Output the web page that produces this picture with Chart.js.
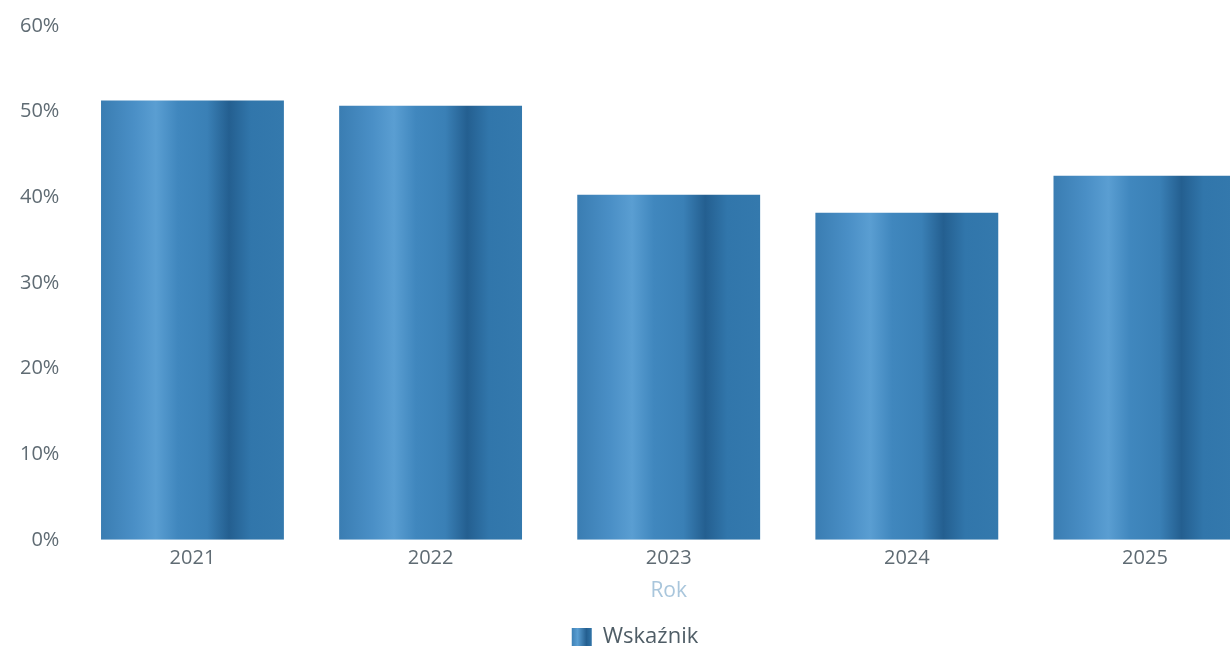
<!DOCTYPE html>
<html>
<head>
    <title>Wskaźnik</title>
    <script src="https://cdn.jsdelivr.net/npm/chart.js@4.4.0/dist/chart.umd.min.js"></script>
    <style>
        html, body { margin: 0; padding: 0; background: #ffffff; overflow: hidden; }
        .wrap { width: 1268px; height: 648px; }
    </style>
</head>
<body>
    <div class="wrap">
        <canvas id="wykres"></canvas>
    </div>
    <script>
        // dane
        const lata = ['2021', '2022', '2023', '2024', '2025'];
        const wskaznik = [51.3, 50.7, 40.3, 38.2, 42.5];
        const ticksY = [0, 10, 20, 30, 40, 50, 60];

        const FONT = "'Open Sans', 'Noto Sans', sans-serif";

        // gradient "walca" na każdym słupku
        function barGradient(ctx, x0, x1) {
            const g = ctx.createLinearGradient(x0, 0, x1, 0);
            g.addColorStop(0.00, '#3a7db2');
            g.addColorStop(0.18, '#4a8fc6');
            g.addColorStop(0.30, '#5a9ed2');
            g.addColorStop(0.42, '#4087be');
            g.addColorStop(0.58, '#3a80b6');
            g.addColorStop(0.70, '#245f90');
            g.addColorStop(0.82, '#3176ab');
            g.addColorStop(1.00, '#3479ad');
            return g;
        }

        function kolorSlupka(context) {
            const chart = context.chart;
            const x = chart.scales.x;
            if (!x || context.dataIndex === undefined) return '#3a7fb4';
            const center = x.getPixelForValue(context.dataIndex);
            const w = (x.width / lata.length) * 0.8 * 0.96;
            return barGradient(chart.ctx, center - w / 2, center + w / 2);
        }

        const ctx = document.getElementById('wykres').getContext('2d');
        new Chart(ctx, {
            type: 'bar',
            data: {
                labels: lata,
                datasets: [{
                    label: 'Wskaźnik',
                    data: wskaznik,
                    backgroundColor: kolorSlupka,
                    borderWidth: 0,
                    barPercentage: 0.96,
                    categoryPercentage: 0.8
                }]
            },
            options: {
                responsive: true,
                maintainAspectRatio: false,
                animation: false,
                layout: { padding: { left: 6, right: 4, top: 24, bottom: -10 } },
                plugins: {
                    tooltip: { enabled: false },
                    legend: {
                        position: 'bottom',
                        labels: {
                            color: '#4f5d66',
                            font: { family: FONT, size: 22 },
                            boxWidth: 20,
                            boxHeight: 18,
                            padding: 4,
                            generateLabels: function (chart) {
                                const g = chart.ctx.createLinearGradient(571, 0, 593, 0);
                                g.addColorStop(0, '#3a7db2');
                                g.addColorStop(0.3, '#5a9ed2');
                                g.addColorStop(0.7, '#245f90');
                                g.addColorStop(1, '#3479ad');
                                return [{
                                    text: 'Wskaźnik',
                                    fillStyle: g,
                                    strokeStyle: 'rgba(0,0,0,0)',
                                    lineWidth: 0,
                                    fontColor: '#4f5d66',
                                    datasetIndex: 0
                                }];
                            }
                        }
                    }
                },
                scales: {
                    x: {
                        grid: { display: false, drawTicks: false },
                        border: { display: false },
                        ticks: {
                            color: '#5f6b73',
                            font: { family: FONT, size: 20 },
                            padding: 6
                        },
                        title: {
                            display: true,
                            text: 'Rok',
                            color: '#a9c6dc',
                            font: { family: FONT, size: 21 },
                            padding: { top: 3, bottom: 18 }
                        }
                    },
                    y: {
                        min: 0,
                        max: 60,
                        grid: { display: false, drawTicks: false },
                        border: { display: false },
                        afterBuildTicks: function (axis) {
                            axis.ticks = ticksY.map(v => ({ value: v }));
                        },
                        ticks: {
                            color: '#5f6b73',
                            font: { family: FONT, size: 20 },
                            padding: 14,
                            callback: v => v + '%'
                        }
                    }
                }
            }
        });
    </script>
</body>
</html>
